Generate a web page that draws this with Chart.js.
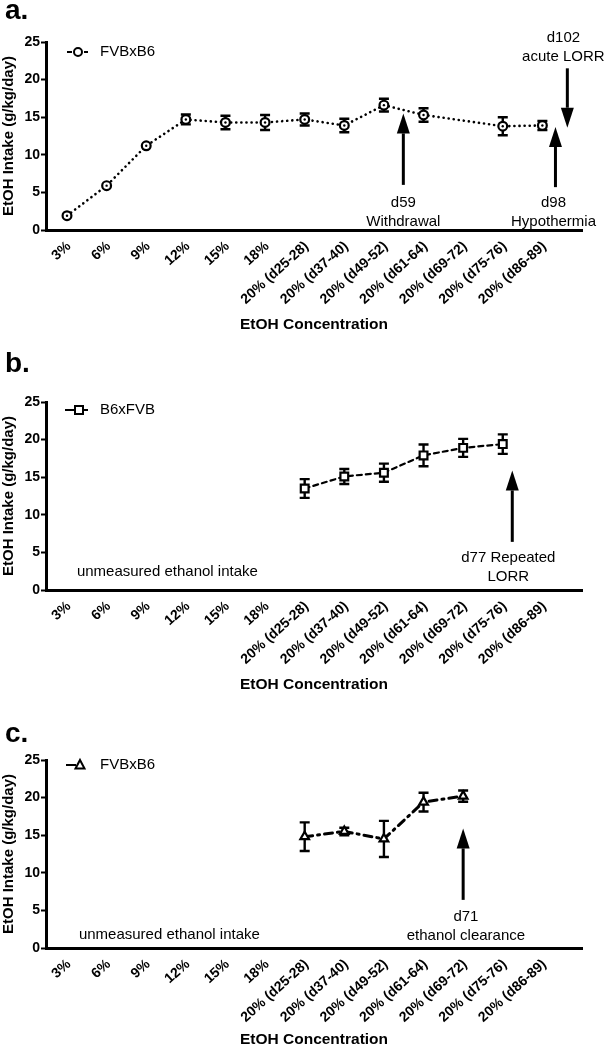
<!DOCTYPE html>
<html>
<head>
<meta charset="utf-8">
<script src="https://cdn.jsdelivr.net/npm/chart.js@4.4.1/dist/chart.umd.min.js"></script>
<style>
  html, body { margin: 0; padding: 0; background: #fff; }
  .panel { position: absolute; left: 0; }
</style>
</head>
<body>
<canvas id="panelA" class="panel" width="607" height="340" style="top:0px"></canvas>
<canvas id="panelB" class="panel" width="607" height="355" style="top:340px"></canvas>
<canvas id="panelC" class="panel" width="607" height="355" style="top:695px"></canvas>
<script>
const categories = ['3%', '6%', '9%', '12%', '15%', '18%', '20% (d25-28)', '20% (d37-40)',
  '20% (d49-52)', '20% (d61-64)', '20% (d69-72)', '20% (d75-76)', '20% (d86-89)'];
const yTickValues = [0, 5, 10, 15, 20, 25];

// panel a: FVBxB6, full schedule
const fvbB6Intake = [1.9, 5.9, 11.2, 14.7, 14.3, 14.3, 14.7, 13.9, 16.6, 15.3, null, 13.8, 13.9];
const fvbB6Sem    = [0, 0, 0, 0.65, 0.9, 1.0, 0.8, 0.9, 0.85, 0.9, null, 1.2, 0.6];

// panel b: B6xFVB, only 20% weeks measured
const b6FvbIntake = [null, null, null, null, null, null, 13.5, 15.1, 15.6, 17.9, 18.9, 19.4, null];
const b6FvbSem    = [null, null, null, null, null, null, 1.25, 1.0, 1.2, 1.45, 1.2, 1.3, null];

// panel c: FVBxB6, second cohort
const fvbB6cIntake = [null, null, null, null, null, null, 14.8, 15.5, 14.5, 19.4, 20.2, null, null];
const fvbB6cSem    = [null, null, null, null, null, null, 1.9, 0.5, 2.4, 1.25, 0.75, null, null];

const FONT = '"Liberation Sans", Arial, Helvetica, sans-serif';

function toPoints(values, errs) {
  return values
    .map((v, i) => ({ x: i, y: v, err: errs[i] }))
    .filter((p) => p.y !== null);
}

function drawArrow(ctx, x, yTail, yTip) {
  const dir = yTip > yTail ? 1 : -1;
  const head = 20;
  const half = 6.5;
  ctx.beginPath();
  ctx.moveTo(x, yTail);
  ctx.lineTo(x, yTip - dir * head);
  ctx.lineWidth = 3;
  ctx.stroke();
  ctx.beginPath();
  ctx.moveTo(x, yTip);
  ctx.lineTo(x - half, yTip - dir * head);
  ctx.lineTo(x + half, yTip - dir * head);
  ctx.closePath();
  ctx.fill();
}

function decorPlugin(cfg, points) {
  return {
    id: 'decor',
    beforeDatasetsDraw(chart) {
      const { ctx, scales: { x, y } } = chart;
      ctx.save();
      ctx.strokeStyle = '#000';
      ctx.lineWidth = 2.4;
      points.forEach((p) => {
        if (!p.err) return;
        const px = x.getPixelForValue(p.x);
        const top = y.getPixelForValue(p.y + p.err);
        const bot = y.getPixelForValue(p.y - p.err);
        ctx.beginPath();
        ctx.moveTo(px, top); ctx.lineTo(px, bot);
        ctx.moveTo(px - 5, top); ctx.lineTo(px + 5, top);
        ctx.moveTo(px - 5, bot); ctx.lineTo(px + 5, bot);
        ctx.stroke();
      });
      ctx.restore();
    },
    afterDraw(chart) {
      const { ctx, scales: { x, y } } = chart;
      ctx.save();
      ctx.fillStyle = '#000';
      ctx.strokeStyle = '#000';

      // center dots for the circle markers
      if (cfg.pointStyle === 'circle') {
        points.forEach((p) => {
          ctx.beginPath();
          ctx.arc(x.getPixelForValue(p.x), y.getPixelForValue(p.y), 1.2, 0, Math.PI * 2);
          ctx.fill();
        });
      }

      // panel letter
      ctx.font = 'bold 28px ' + FONT;
      ctx.textAlign = 'left';
      ctx.textBaseline = 'alphabetic';
      ctx.fillText(cfg.letter, 5, cfg.letterY);

      // legend
      ctx.lineWidth = 2;
      ctx.setLineDash([]);
      cfg.legendSegs.forEach(([a, b]) => {
        ctx.beginPath();
        ctx.moveTo(a, cfg.legendY);
        ctx.lineTo(b, cfg.legendY);
        ctx.stroke();
      });
      ctx.fillStyle = '#fff';
      ctx.beginPath();
      const lx = cfg.legendX, ly = cfg.legendY;
      if (cfg.pointStyle === 'circle') {
        ctx.arc(lx, ly, 4, 0, Math.PI * 2);
      } else if (cfg.pointStyle === 'rect') {
        ctx.rect(lx - 4, ly - 4, 8, 8);
      } else {
        ctx.moveTo(lx, ly - 5);
        ctx.lineTo(lx + 4.5, ly + 3.5);
        ctx.lineTo(lx - 4.5, ly + 3.5);
        ctx.closePath();
      }
      ctx.fill();
      ctx.stroke();
      ctx.fillStyle = '#000';
      ctx.font = '15px ' + FONT;
      ctx.textBaseline = 'middle';
      ctx.fillText(cfg.legendText, 100, ly);

      // arrows
      cfg.arrows.forEach((a) => {
        drawArrow(ctx, x.getPixelForValue(a.x), y.getPixelForValue(a.from), y.getPixelForValue(a.to));
      });

      // annotation texts
      ctx.font = '15px ' + FONT;
      cfg.notes.forEach((n) => {
        ctx.textAlign = n.align || 'center';
        const px = x.getPixelForValue(n.x);
        const py = y.getPixelForValue(n.y);
        n.lines.forEach((t, k) => ctx.fillText(t, px, py + k * 19));
      });
      ctx.restore();
    }
  };
}

function makePanel(canvasId, cfg, values, errs) {
  const points = toPoints(values, errs);
  return new Chart(document.getElementById(canvasId), {
    type: 'line',
    data: {
      datasets: [{
        label: cfg.legendText,
        data: points,
        borderColor: '#000',
        borderWidth: cfg.lineWidth,
        borderDash: cfg.dash,
        borderCapStyle: 'round',
        pointStyle: cfg.pointStyle,
        pointRadius: cfg.pointRadius,
        pointBorderWidth: 2.2,
        pointBorderColor: '#000',
        pointBackgroundColor: '#fff',
        tension: 0
      }]
    },
    options: {
      responsive: false,
      animation: false,
      events: [],
      layout: { padding: { top: cfg.chartTop, right: 25, left: 0, bottom: 0 } },
      plugins: { legend: { display: false }, tooltip: { enabled: false } },
      scales: {
        x: {
          type: 'linear',
          min: -0.53,
          max: 13.0,
          afterBuildTicks: (s) => { s.ticks = categories.map((_, i) => ({ value: i })); },
          afterFit: (s) => { s.height = cfg.xAxisHeight; s.paddingLeft = 0; s.paddingRight = 0; },
          grid: { display: false },
          border: { display: true, color: '#000', width: 3 },
          ticks: {
            autoSkip: false,
            minRotation: 42,
            maxRotation: 42,
            padding: 0,
            labelOffset: 2,
            color: '#000',
            font: { family: FONT, size: 14, weight: 'bold' },
            callback: (v) => categories[v] ?? ''
          },
          title: {
            display: true,
            text: 'EtOH Concentration',
            color: '#000',
            font: { family: FONT, size: 15.5, weight: 'bold' },
            padding: { top: 0, bottom: cfg.titlePad }
          }
        },
        y: {
          min: 0,
          max: 25,
          afterBuildTicks: (s) => { s.ticks = yTickValues.map((v) => ({ value: v })); },
          afterFit: (s) => { s.width = 46; s.paddingTop = 0; s.paddingBottom = 0; },
          grid: { drawOnChartArea: false, drawTicks: true, tickLength: 5, tickWidth: 2, color: '#000' },
          border: { display: true, color: '#000', width: 3 },
          ticks: { padding: 1, color: '#000', font: { family: FONT, size: 14, weight: 'bold' } },
          title: {
            display: true,
            text: 'EtOH Intake (g/kg/day)',
            color: '#000',
            font: { family: FONT, size: 15, weight: 'bold' },
            padding: { top: 0, bottom: 0 }
          }
        }
      }
    },
    plugins: [decorPlugin(cfg, points)]
  });
}

makePanel('panelA', {
  letter: 'a.', letterY: 19,
  chartTop: 42, xAxisHeight: 110, titlePad: 6.3,
  legendText: 'FVBxB6', legendX: 78, legendY: 52, legendSegs: [[67, 72], [84, 88]],
  pointStyle: 'circle', pointRadius: 4.4, lineWidth: 2.6, dash: [0.1, 5],
  arrows: [
    { x: 8.49, from: 6.0, to: 15.5 },
    { x: 12.33, from: 5.7, to: 13.7 },
    { x: 12.63, from: 21.5, to: 13.6 }
  ],
  notes: [
    { x: 8.49, y: 3.6, lines: ['d59', 'Withdrawal'] },
    { x: 12.28, y: 3.6, lines: ['d98', 'Hypothermia'] },
    { x: 12.53, y: 25.5, lines: ['d102', 'acute LORR'] }
  ]
}, fvbB6Intake, fvbB6Sem);

makePanel('panelB', {
  letter: 'b.', letterY: 32,
  chartTop: 62, xAxisHeight: 105, titlePad: 1.3,
  legendText: 'B6xFVB', legendX: 79, legendY: 70, legendSegs: [[65, 75], [84, 88]],
  pointStyle: 'rect', pointRadius: 5.5, lineWidth: 2.2, dash: [5, 4],
  arrows: [{ x: 11.24, from: 6.4, to: 15.9 }],
  notes: [
    { x: 11.14, y: 4.25, lines: ['d77 Repeated', 'LORR'] },
    { x: 0.25, y: 2.4, lines: ['unmeasured ethanol intake'], align: 'left' }
  ]
}, b6FvbIntake, b6FvbSem);

makePanel('panelC', {
  letter: 'c.', letterY: 47,
  chartTop: 65, xAxisHeight: 102, titlePad: 1.3,
  legendText: 'FVBxB6', legendX: 80, legendY: 70, legendSegs: [[66, 76]],
  pointStyle: 'triangle', pointRadius: 5, lineWidth: 3, dash: [8, 5, 2, 5],
  arrows: [{ x: 10.0, from: 6.4, to: 15.9 }],
  notes: [
    { x: 10.07, y: 4.1, lines: ['d71', 'ethanol clearance'] },
    { x: 0.3, y: 1.7, lines: ['unmeasured ethanol intake'], align: 'left' }
  ]
}, fvbB6cIntake, fvbB6cSem);
</script>
</body>
</html>
